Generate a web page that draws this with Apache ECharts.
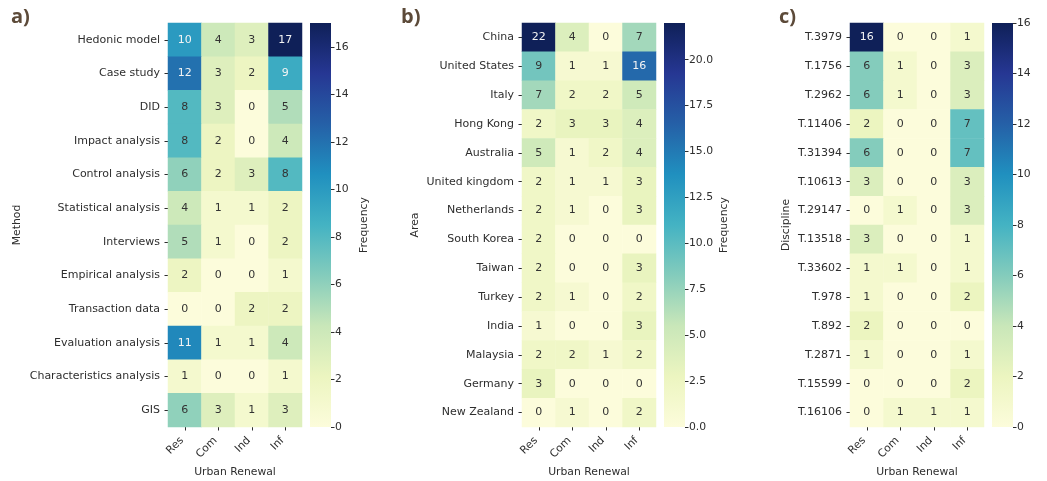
<!DOCTYPE html>
<html>
<head>
<meta charset="utf-8">
<script src="https://cdn.jsdelivr.net/npm/echarts@6/dist/echarts.min.js"></script>
<style>html,body{margin:0;padding:0;background:#fff}#c{width:1047px;height:481px}</style>
</head>
<body>
<div id="c"></div>
<script>
const xCats = ['Res', 'Com', 'Ind', 'Inf'];

const methodCats = ['Hedonic model','Case study','DID','Impact analysis','Control analysis','Statistical analysis','Interviews','Empirical analysis','Transaction data','Evaluation analysis','Characteristics analysis','GIS'];
const methodVals = [
  [10,4,3,17],[12,3,2,9],[8,3,0,5],[8,2,0,4],[6,2,3,8],[4,1,1,2],
  [5,1,0,2],[2,0,0,1],[0,0,2,2],[11,1,1,4],[1,0,0,1],[6,3,1,3]
];
const methodMax = 17;
const methodTicks = [0,2,4,6,8,10,12,14,16];

const areaCats = ['China','United States','Italy','Hong Kong','Australia','United kingdom','Netherlands','South Korea','Taiwan','Turkey','India','Malaysia','Germany','New Zealand'];
const areaVals = [
  [22,4,0,7],[9,1,1,16],[7,2,2,5],[2,3,3,4],[5,1,2,4],[2,1,1,3],[2,1,0,3],
  [2,0,0,0],[2,0,0,3],[2,1,0,2],[1,0,0,3],[2,2,1,2],[3,0,0,0],[0,1,0,2]
];
const areaMax = 22;
const areaTicks = [0,2.5,5,7.5,10,12.5,15,17.5,20];

const discCats = ['T.3979','T.1756','T.2962','T.11406','T.31394','T.10613','T.29147','T.13518','T.33602','T.978','T.892','T.2871','T.15599','T.16106'];
const discVals = [
  [16,0,0,1],[6,1,0,3],[6,1,0,3],[2,0,0,7],[6,0,0,7],[3,0,0,3],[0,1,0,3],
  [3,0,0,1],[1,1,0,1],[1,0,0,2],[2,0,0,0],[1,0,0,1],[0,0,0,2],[0,1,1,1]
];
const discMax = 16;
const discTicks = [0,2,4,6,8,10,12,14,16];

const ylgnbu = ['#fcfcdb','#ecf5c0','#c9e7b9','#84ccbc','#44b3c3','#2090bf','#2560a7','#263793','#0f2058'];
const FONT = 'DejaVu Sans';
const TXT = '#2e2e2e';
const FS = 10.8;

const panels = [
  {cats: methodCats, vals: methodVals, max: methodMax, ticks: methodTicks, name: 'Method', left: 168, cbLeft: 310, nameGap: 145, cbGap: 28, fmt: v => String(v)},
  {cats: areaCats, vals: areaVals, max: areaMax, ticks: areaTicks, name: 'Area', left: 522, cbLeft: 664, nameGap: 101, cbGap: 34, fmt: v => v.toFixed(1)},
  {cats: discCats, vals: discVals, max: discMax, ticks: discTicks, name: 'Discipline', left: 850, cbLeft: 992, nameGap: 58, cbGap: 36, fmt: v => String(v)}
];

const grid = [], xAxis = [], yAxis = [], series = [], visualMap = [];
const TOP = 23, H = 404;

panels.forEach((p, i) => {
  grid.push({left: p.left, top: TOP, width: 134, height: H, containLabel: false, outerBoundsMode: 'none'});
  grid.push({left: p.cbLeft, top: TOP, width: 21, height: H, containLabel: false, outerBoundsMode: 'none'});
  const gH = 2 * i, gC = 2 * i + 1;
  xAxis.push({
    type: 'category', gridIndex: gH, data: xCats, position: 'bottom',
    axisLine: {show: false}, splitLine: {show: false},
    axisTick: {show: true, alignWithLabel: true, length: 3.5, lineStyle: {color: TXT}},
    axisLabel: {rotate: 45, fontFamily: FONT, fontSize: FS, color: TXT, margin: 9, padding: [0, 4, 0, 0]},
    name: 'Urban Renewal', nameLocation: 'middle', nameGap: 38,
    nameTextStyle: {fontFamily: FONT, fontSize: FS, color: TXT}
  });
  yAxis.push({
    type: 'category', gridIndex: gH, data: p.cats, inverse: true,
    axisLine: {show: false}, splitLine: {show: false},
    axisTick: {show: true, alignWithLabel: true, length: 3.5, lineStyle: {color: TXT}},
    axisLabel: {fontFamily: FONT, fontSize: 11, color: TXT, margin: 8},
    name: p.name, nameLocation: 'middle', nameGap: p.nameGap, nameRotate: 90,
    nameTextStyle: {fontFamily: FONT, fontSize: FS, color: TXT}
  });
  xAxis.push({type: 'category', gridIndex: gC, data: [''], show: false});
  yAxis.push({
    type: 'value', gridIndex: gC, min: 0, max: p.max, position: 'right',
    axisLine: {show: false}, splitLine: {show: false},
    axisTick: {show: true, length: 3.5, customValues: p.ticks, lineStyle: {color: TXT}},
    axisLabel: {customValues: p.ticks, formatter: p.fmt, fontFamily: FONT, fontSize: FS, color: TXT, margin: 4},
    name: 'Frequency', nameLocation: 'middle', nameGap: p.cbGap, nameRotate: 90,
    nameTextStyle: {fontFamily: FONT, fontSize: FS, color: TXT}
  });

  const data = [];
  p.vals.forEach((row, yi) => row.forEach((v, xi) => {
    data.push({value: [xi, yi, v], label: {color: v / p.max > 0.5 ? '#f4f4f4' : '#333'}});
  }));
  series.push({
    type: 'heatmap', xAxisIndex: gH, yAxisIndex: gH, data: data,
    label: {show: true, formatter: q => q.value[2], fontFamily: FONT, fontSize: 11},
    itemStyle: {borderWidth: 0},
    emphasis: {disabled: true}
  });
  visualMap.push({
    type: 'continuous', show: false, min: 0, max: p.max, seriesIndex: 2 * i,
    dimension: 2, inRange: {color: ylgnbu}
  });
  series.push({
    type: 'bar', xAxisIndex: gC, yAxisIndex: gC, data: [p.max],
    barWidth: '100%', silent: true,
    itemStyle: {
      color: new echarts.graphic.LinearGradient(0, 1, 0, 0,
        ylgnbu.map((c, k) => ({offset: k / (ylgnbu.length - 1), color: c})))
    }
  });
});

const chart = echarts.init(document.getElementById('c'), null, {renderer: 'canvas'});
chart.setOption({
  animation: false,
  backgroundColor: '#fff',
  title: [
    {text: 'a)', left: 6, top: 2},
    {text: 'b)', left: 396, top: 2},
    {text: 'c)', left: 774, top: 2}
  ].map(t => Object.assign(t, {textStyle: {fontFamily: 'Open Sans', fontWeight: 'bold', fontSize: 20, color: '#5c4a39'}})),
  grid, xAxis, yAxis, series, visualMap
});
</script>
</body>
</html>
